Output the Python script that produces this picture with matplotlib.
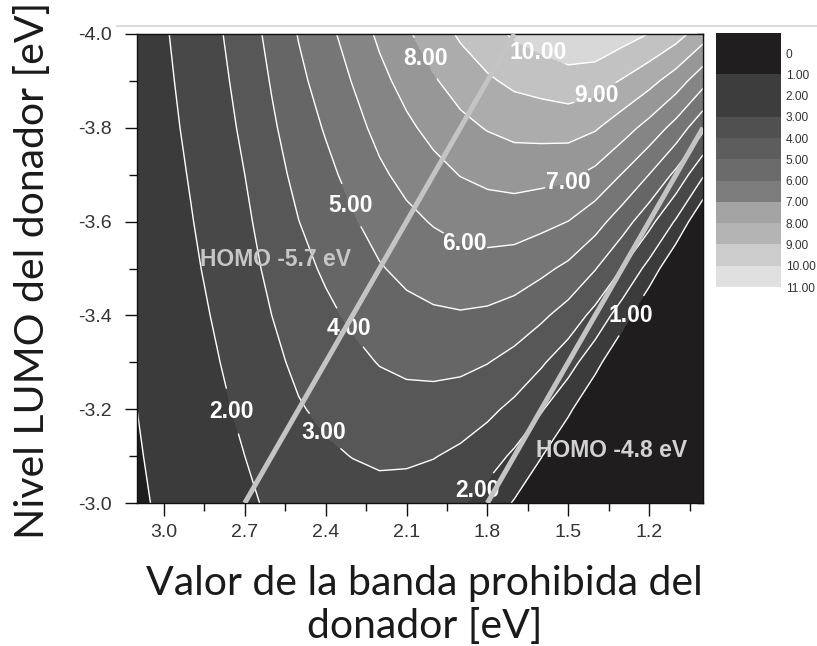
import numpy as np
import matplotlib.pyplot as plt
from matplotlib.lines import Line2D

plt.rcParams['font.family'] = ['Liberation Sans', 'DejaVu Sans']

# donor band gap [eV], x axis runs from 3.1 down to 1.0
band_gap = [3.1, 3.0, 2.9, 2.8, 2.7, 2.6, 2.5, 2.4, 2.3, 2.2, 2.1,
            2.0, 1.9, 1.8, 1.7, 1.6, 1.5, 1.4, 1.3, 1.2, 1.1, 1.0]
# donor LUMO level [eV]
lumo = [-4.0, -3.9, -3.8, -3.7, -3.6, -3.5, -3.4, -3.3, -3.2, -3.1, -3.0]

# efficiency [%] estimated from the map, one row per LUMO level
eff_40 = [1.48, 1.91, 2.37, 2.88, 3.50, 4.29, 5.05, 5.72, 6.41, 7.18, 7.86,
          8.50, 9.14, 9.67, 10.13, 10.44, 10.79, 10.80, 10.42, 9.98, 9.39, 8.45]
eff_39 = [1.42, 1.83, 2.27, 2.75, 3.33, 4.07, 4.79, 5.40, 6.04, 6.73, 7.34,
          7.90, 8.43, 8.86, 9.21, 9.40, 9.59, 9.45, 8.93, 8.32, 7.51, 6.34]
eff_38 = [1.36, 1.75, 2.17, 2.62, 3.17, 3.86, 4.52, 5.08, 5.66, 6.28, 6.81,
          7.29, 7.73, 8.06, 8.29, 8.35, 8.39, 8.10, 7.44, 6.65, 5.63, 4.22]
eff_37 = [1.30, 1.67, 2.06, 2.49, 3.00, 3.64, 4.26, 4.76, 5.28, 5.83, 6.29,
          6.68, 7.03, 7.25, 7.37, 7.31, 7.19, 6.75, 5.96, 4.99, 3.76, 2.11]
eff_36 = [1.24, 1.59, 1.96, 2.36, 2.83, 3.43, 3.99, 4.45, 4.90, 5.38, 5.76,
          6.07, 6.32, 6.45, 6.45, 6.26, 5.99, 5.40, 4.47, 3.33, 1.88, 0.00]
eff_35 = [1.18, 1.51, 1.86, 2.23, 2.67, 3.22, 3.72, 4.13, 4.53, 4.93, 5.24,
          5.47, 5.62, 5.64, 5.53, 5.22, 4.80, 4.05, 2.98, 1.66, 0.00, 0.00]
eff_34 = [1.12, 1.43, 1.75, 2.10, 2.50, 3.00, 3.46, 3.81, 4.15, 4.49, 4.72,
          4.86, 4.92, 4.84, 4.61, 4.18, 3.60, 2.70, 1.49, 0.00, 0.00, 0.00]
eff_33 = [1.06, 1.35, 1.65, 1.97, 2.33, 2.79, 3.19, 3.49, 3.77, 4.04, 4.19,
          4.25, 4.22, 4.03, 3.68, 3.13, 2.40, 1.35, 0.00, 0.00, 0.00, 0.00]
eff_32 = [1.00, 1.27, 1.55, 1.83, 2.17, 2.57, 2.93, 3.18, 3.39, 3.59, 3.67,
          3.64, 3.51, 3.22, 2.76, 2.09, 1.20, 0.00, 0.00, 0.00, 0.00, 0.00]
eff_31 = [0.94, 1.19, 1.44, 1.70, 2.00, 2.36, 2.66, 2.86, 3.02, 3.14, 3.14,
          3.04, 2.81, 2.42, 1.84, 1.04, 0.00, 0.00, 0.00, 0.00, 0.00, 0.00]
eff_30 = [0.89, 1.11, 1.34, 1.57, 1.83, 2.14, 2.39, 2.54, 2.64, 2.69, 2.62,
          2.43, 2.11, 1.61, 0.92, 0.00, 0.00, 0.00, 0.00, 0.00, 0.00, 0.00]

fill_levels = [0, 1, 2, 3, 4, 5, 6, 7, 8, 9, 10, 11]
fill_colors = ['#1f1d1e', '#3b3b3b', '#484848', '#575757', '#666666', '#767676',
               '#858585', '#979797', '#acacac', '#c2c2c2', '#d8d8d8']
line_levels = [1, 2, 3, 4, 5, 6, 7, 8, 9, 10]

# where the contour labels sit (level, band gap, LUMO)
label_levels = [1, 2, 2, 3, 4, 5, 6, 7, 8, 9, 10]
label_eg = [1.271, 2.758, 1.86, 2.435, 2.323, 2.305, 1.892, 1.501, 2.063, 1.393, 1.631]
label_lumo = [-3.401, -3.194, -3.04, -3.139, -3.369, -3.635, -3.533, -3.684, -3.938, -3.866, -3.940]

# constant HOMO lines
homo_names = ['HOMO -5.7 eV', 'HOMO -4.8 eV']
homo_eg = [[2.7, 1.7], [1.8, 1.0]]
homo_lumo = [[-3.0, -4.0], [-3.0, -3.8]]
homo_text_eg = [2.587, 1.341]
homo_text_lumo = [-3.520, -3.113]
homo_text_colors = ['#c6c6c6', '#d2d2d2']

# colour scale on the right
cb_bounds = [-0.95, 1, 3, 4, 5, 6, 7, 8, 9, 10, 11]
cb_colors = ['#201e1f', '#3d3d3d', '#505050', '#5d5d5d', '#6b6b6b', '#7d7d7d',
             '#a4a4a4', '#b4b4b4', '#cccccc', '#e0e0e0']
cb_ticks = [0, 1, 2, 3, 4, 5, 6, 7, 8, 9, 10, 11]
cb_labels = ['0', '1.00', '2.00', '3.00', '4.00', '5.00', '6.00', '7.00',
             '8.00', '9.00', '10.00', '11.00']

x_major = [3.0, 2.7, 2.4, 2.1, 1.8, 1.5, 1.2]
x_minor = [2.85, 2.55, 2.25, 1.95, 1.65, 1.35, 1.05]
y_major = [-4.0, -3.8, -3.6, -3.4, -3.2, -3.0]
y_minor = [-3.9, -3.7, -3.5, -3.3, -3.1]

W, H = 817, 646
fig = plt.figure(figsize=(W / 100, H / 100), dpi=100)
ax = fig.add_axes([137 / W, 1 - 503 / H, 566 / W, 469 / H])

X, Y = np.meshgrid(band_gap, lumo)
Z = np.array([eff_40, eff_39, eff_38, eff_37, eff_36, eff_35,
              eff_34, eff_33, eff_32, eff_31, eff_30])
ax.contourf(X, Y, Z, levels=fill_levels, colors=fill_colors)

# one contour set per level so each label lands on its own line
with plt.rc_context({'font.weight': 'bold'}):
    for lvl in line_levels:
        cs = ax.contour(X, Y, Z, levels=[lvl], colors='white', linewidths=1.0)
        pos = [(x, y) for l, x, y in zip(label_levels, label_eg, label_lumo) if l == lvl]
        if pos:
            cs.clabel(manual=pos, fmt='%.2f', fontsize=16.5, colors='white',
                      inline=True, inline_spacing=1)
for t in ax.texts:
    t.set_rotation(0)

for name, xs, ys, tx, ty, tc in zip(homo_names, homo_eg, homo_lumo,
                                    homo_text_eg, homo_text_lumo, homo_text_colors):
    ax.plot(xs, ys, color='#c4c4c4', lw=3.6, solid_capstyle='butt', zorder=6)
    ax.text(tx, ty, name, color=tc, fontsize=16.5, fontweight='bold',
            ha='center', va='center', zorder=5)

ax.set_xlim(3.1, 1.0)
ax.set_ylim(-3.0, -4.0)
ax.set_xticks(x_major, ['%.1f' % v for v in x_major])
ax.set_xticks(x_minor, minor=True)
ax.set_yticks(y_major, ['%.1f' % v for v in y_major])
ax.set_yticks(y_minor, minor=True)
ax.tick_params(which='both', direction='out', width=1.0, color='#111111',
               labelsize=14, labelcolor='#333333')
ax.tick_params(which='major', length=9)
ax.tick_params(which='minor', length=6)
ax.tick_params(axis='x', pad=6)
ax.tick_params(axis='y', pad=9)
for s in ax.spines.values():
    s.set_linewidth(1.0)
    s.set_color('#111111')

top = ax.secondary_xaxis('top')
top.set_xticks(x_major)
top.set_xticks(x_minor, minor=True)
top.tick_params(which='both', direction='in', length=6, width=1.0,
                color='#111111', labeltop=False)
right = ax.secondary_yaxis('right')
right.set_yticks(y_major)
right.set_yticks(y_minor, minor=True)
right.tick_params(which='both', direction='in', length=4, width=1.0,
                  color='#111111', labelright=False)

cax = fig.add_axes([716 / W, 1 - 287 / H, 65 / W, 254 / H])
for lo, hi, c in zip(cb_bounds[:-1], cb_bounds[1:], cb_colors):
    cax.axhspan(lo, hi, color=c, lw=0)
cax.set_xlim(0, 1)
cax.set_ylim(11, -0.95)
cax.set_xticks([])
cax.yaxis.tick_right()
cax.set_yticks(cb_ticks, cb_labels)
cax.tick_params(length=0, pad=3.5, labelsize=8.6, labelcolor='#333333')
for s in cax.spines.values():
    s.set_visible(False)

fig.add_artist(Line2D([117 / W, 1.0], [1 - 26 / H, 1 - 26 / H],
                      color='#d6d6d6', lw=1.2))

label_font = dict(family=['Lato', 'DejaVu Sans'], fontsize=29.5, color='#1a1a1a')
fig.text(33 / W, 1 - 270 / H, 'Nivel LUMO del donador [eV]', rotation=90,
         ha='center', va='center', **label_font)
fig.text(424 / W, 1 - 583 / H, 'Valor de la banda prohibida del',
         ha='center', va='center', **label_font)
fig.text(425 / W, 1 - 626 / H, 'donador [eV]',
         ha='center', va='center', **label_font)

fig.savefig('out.png', dpi=100)
